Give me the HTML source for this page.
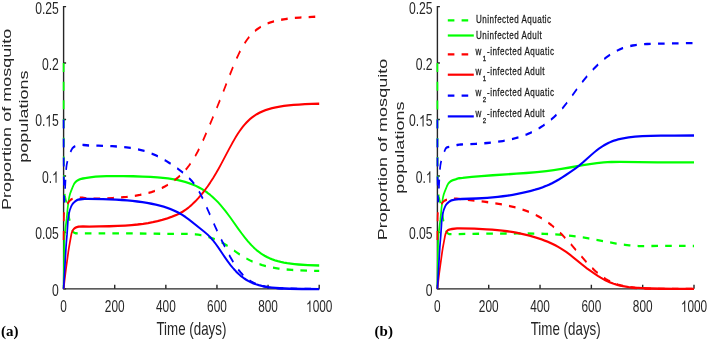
<!DOCTYPE html>
<html><head><meta charset="utf-8"><style>
html,body{margin:0;padding:0;background:#fff;width:708px;height:341px;overflow:hidden;}
svg{display:block;will-change:transform;}
</style></head><body>
<svg width="708" height="341" viewBox="0 0 708 341">
<style>
text{font-family:"Liberation Sans",sans-serif;}
.tk{font-size:16px;fill:#262626;}
.lb{font-size:18.3px;fill:#262626;}
.yl{font-size:18.05px;fill:#262626;}
.lg{font-size:10.6px;fill:#1a1a1a;stroke:#1a1a1a;stroke-width:0.25px;letter-spacing:0.62px;}
.lgs{font-size:7.6px;fill:#1a1a1a;stroke:#1a1a1a;stroke-width:0.3px;}
.pl{font-family:"Liberation Serif",serif;font-weight:bold;font-size:15px;fill:#000;}
</style>
<rect width="708" height="341" fill="#fff"/>
<path d="M63.6,6.0 L63.6,288.85 L319.2,288.85" fill="none" stroke="#262626" stroke-width="1.4"/>
<path d="M63.6,288.85 h2.5 M63.6,232.40 h2.5 M63.6,175.95 h2.5 M63.6,119.50 h2.5 M63.6,63.05 h2.5 M63.6,6.60 h2.5 M63.60,288.85 v-4.1 M114.72,288.85 v-4.1 M165.84,288.85 v-4.1 M216.96,288.85 v-4.1 M268.08,288.85 v-4.1 M319.20,288.85 v-4.1" stroke="#262626" stroke-width="1.4" fill="none"/>
<g transform="translate(63.6,0) scale(0.734,1)" fill="none" stroke-width="2.3" stroke-linejoin="round">
<path d="M0.00,62.90 L0.07,121.42 L0.23,165.69 L0.48,180.96 L0.64,185.30 L0.91,189.47 L1.29,193.01 L1.86,196.02 L2.92,199.65 L4.26,203.33 L4.85,205.27 L5.54,208.16 L8.04,219.38 L9.46,224.63 L10.28,227.23 L10.99,228.91 L11.72,230.22 L12.32,231.15 L12.87,231.82 L13.38,232.24 L14.96,232.92 L16.40,233.26 L23.22,233.46 L26.94,233.48 L35.42,233.39 L95.21,233.47 L116.46,233.60 L148.63,233.94 L168.25,233.80 L172.20,233.88 L175.91,234.04 L179.63,234.31 L183.35,234.69 L186.95,235.15 L190.66,235.73 L194.38,236.41 L197.98,237.16 L201.58,238.02 L205.06,238.95 L208.43,239.96 L211.68,241.04 L217.02,243.06 L222.24,245.36 L227.00,247.71 L235.95,252.43 L239.78,254.38 L244.07,256.42 L248.25,258.21 L253.60,260.25 L259.05,262.05 L264.74,263.66 L270.66,265.09 L277.63,266.47 L284.95,267.61 L292.84,268.56 L301.43,269.33 L310.84,269.92 L321.41,270.36 L333.60,270.69 L348.23,270.91" stroke="#00ff00" stroke-dasharray="9 9.730"/>
<path d="M0.00,288.85 L0.89,243.92 L1.00,240.35 L1.26,236.96 L1.72,233.15 L4.15,218.88 L5.54,208.44 L6.06,204.99 L6.79,201.08 L7.39,198.26 L7.91,196.29 L8.53,194.55 L9.19,192.99 L9.98,191.42 L12.79,186.27 L14.05,184.26 L14.83,183.28 L15.74,182.47 L17.00,181.54 L18.31,180.78 L19.80,180.13 L21.83,179.46 L23.92,178.93 L26.24,178.50 L29.38,178.06 L36.00,177.32 L43.54,176.67 L50.51,176.31 L58.52,176.10 L68.62,176.03 L81.05,176.08 L94.87,176.26 L107.29,176.54 L118.21,176.91 L127.84,177.38 L135.27,177.88 L142.12,178.46 L148.51,179.15 L154.55,179.95 L160.12,180.85 L165.46,181.89 L170.57,183.07 L175.33,184.35 L179.86,185.77 L184.16,187.32 L188.34,189.02 L192.29,190.85 L196.23,192.89 L200.07,195.10 L203.78,197.47 L207.50,200.07 L210.63,202.46 L213.88,205.11 L217.25,208.04 L220.62,211.14 L226.89,217.30 L238.04,228.83 L242.45,233.29 L246.98,237.64 L251.16,241.37 L253.71,243.49 L256.15,245.40 L258.59,247.19 L261.03,248.86 L263.46,250.41 L265.90,251.84 L268.46,253.21 L271.01,254.47 L274.15,255.85 L277.40,257.13 L280.77,258.28 L284.37,259.36 L287.97,260.29 L291.80,261.13 L295.86,261.89 L300.16,262.56 L304.69,263.15 L309.45,263.65 L314.56,264.10 L320.13,264.48 L332.79,265.08 L348.23,265.49" stroke="#00ff00"/>
<path d="M0.00,240.00 L0.12,225.79 L0.36,217.13 L0.49,214.64 L0.68,212.69 L0.97,210.61 L1.30,209.03 L1.63,208.02 L2.11,207.01 L2.61,206.26 L3.35,205.41 L5.09,203.95 L6.87,201.97 L7.69,201.22 L9.23,200.06 L10.59,199.38 L12.27,198.77 L13.90,198.35 L17.21,197.80 L19.57,197.61 L22.41,197.63 L25.43,197.74 L32.16,198.66 L33.79,198.81 L35.18,198.85 L46.91,198.64 L57.48,198.37 L66.88,198.03 L75.47,197.60 L85.93,196.90 L95.33,196.02 L103.92,194.95 L111.82,193.67 L115.88,192.88 L119.71,192.04 L123.43,191.13 L127.15,190.11 L130.75,189.01 L134.23,187.84 L137.60,186.59 L140.85,185.26 L144.10,183.82 L147.23,182.30 L150.25,180.71 L153.27,178.99 L156.17,177.21 L159.08,175.28 L161.75,173.36 L164.42,171.30 L167.67,168.56 L170.69,165.77 L173.59,162.83 L176.38,159.73 L179.17,156.34 L181.84,152.81 L184.51,148.99 L187.41,144.54 L190.78,139.08 L194.84,132.19 L203.32,117.48 L209.24,107.03 L215.16,96.24 L226.89,74.10 L231.77,65.22 L235.95,58.14 L237.92,55.02 L239.78,52.23 L242.22,48.80 L244.65,45.64 L247.09,42.74 L249.65,39.99 L252.20,37.51 L254.87,35.19 L257.54,33.13 L260.33,31.23 L263.46,29.36 L266.72,27.68 L270.20,26.14 L273.92,24.74 L277.75,23.52 L281.93,22.40 L286.46,21.39 L291.22,20.52 L296.33,19.75 L301.90,19.07 L307.94,18.48 L314.56,17.97 L321.75,17.54 L329.65,17.18 L338.48,16.88 L348.23,16.64" stroke="#ff0000" stroke-dasharray="9 9.800"/>
<path d="M0.00,288.85 L1.65,278.21 L3.18,269.36 L6.38,252.11 L7.29,247.81 L8.38,243.13 L10.54,234.40 L11.06,232.73 L11.91,231.23 L12.84,229.95 L13.78,228.99 L14.74,228.32 L16.35,227.63 L17.95,227.10 L19.45,226.76 L20.90,226.60 L26.36,226.44 L34.83,226.59 L48.54,226.45 L62.24,226.23 L73.97,225.92 L83.84,225.55 L92.66,225.08 L100.79,224.52 L108.34,223.83 L115.07,223.06 L121.57,222.15 L127.96,221.09 L134.35,219.86 L141.43,218.30 L147.81,216.70 L152.92,215.23 L157.45,213.68 L161.86,211.87 L166.16,209.79 L170.46,207.39 L174.75,204.67 L179.17,201.54 L183.58,198.09 L187.99,194.31 L192.29,190.31 L196.12,186.47 L199.95,182.35 L203.78,177.96 L207.61,173.29 L210.98,168.98 L214.58,164.17 L225.73,148.67 L229.68,143.31 L233.74,138.09 L237.57,133.55 L239.89,131.00 L242.22,128.62 L244.54,126.41 L246.86,124.37 L249.18,122.50 L251.62,120.70 L254.06,119.06 L256.61,117.51 L259.98,115.70 L263.46,114.08 L267.18,112.60 L271.01,111.29 L275.08,110.11 L279.49,109.04 L284.13,108.11 L289.13,107.27 L294.47,106.55 L300.27,105.92 L306.54,105.37 L313.28,104.92 L320.71,104.53 L328.84,104.21 L338.01,103.95 L348.23,103.75" stroke="#ff0000"/>
<path d="M0.00,119.50 L0.08,153.20 L0.26,178.83 L0.55,191.87 L0.89,199.45 L1.08,201.50 L1.17,201.31 L1.27,200.58 L1.58,196.89 L2.17,186.20 L2.94,174.58 L3.70,167.69 L4.01,165.79 L4.41,164.04 L5.07,161.74 L5.90,159.54 L7.93,154.85 L8.72,153.26 L9.50,151.87 L10.89,149.65 L11.86,148.44 L12.47,147.93 L13.26,147.38 L14.92,146.51 L17.75,145.41 L19.35,144.98 L20.22,144.90 L24.62,144.90 L27.40,145.00 L34.49,145.52 L47.49,145.71 L57.24,145.92 L66.19,146.22 L74.08,146.59 L80.12,146.97 L85.81,147.43 L91.15,147.96 L96.14,148.57 L100.90,149.28 L105.55,150.09 L109.96,150.99 L114.26,152.00 L118.44,153.12 L122.50,154.34 L126.57,155.70 L130.75,157.23 L134.93,158.89 L139.34,160.79 L143.87,162.86 L148.63,165.16 L153.62,167.70 L158.26,170.19 L162.33,172.49 L165.93,174.68 L169.06,176.75 L171.97,178.84 L174.64,180.98 L177.08,183.15 L179.86,185.92 L182.65,189.07 L185.44,192.62 L188.22,196.55 L190.20,199.55 L192.40,203.07 L203.67,221.92 L207.15,227.57 L210.86,233.43 L215.39,240.36 L219.69,246.73 L223.41,252.02 L226.89,256.73 L229.91,260.57 L232.81,264.01 L235.60,267.06 L238.38,269.85 L241.17,272.38 L243.96,274.64 L246.86,276.72 L249.76,278.55 L252.78,280.19 L256.03,281.70 L259.40,283.01 L263.00,284.17 L266.72,285.13 L270.78,285.98 L275.19,286.69 L279.95,287.27 L284.83,287.71 L290.29,288.07 L296.44,288.35 L303.41,288.57 L320.83,288.82 L348.23,288.93" stroke="#0000ff" stroke-dasharray="9 9.970"/>
<path d="M0.00,288.85 L3.20,248.27 L3.64,243.70 L4.69,234.40 L5.80,221.88 L6.10,219.46 L6.78,216.01 L7.46,213.23 L8.21,210.88 L8.90,209.19 L9.92,207.21 L10.89,205.63 L11.86,204.35 L12.74,203.47 L13.90,202.60 L15.54,201.53 L17.06,200.69 L18.97,199.92 L19.89,199.67 L20.78,199.52 L28.56,198.89 L32.86,198.78 L53.65,199.11 L71.41,199.65 L79.31,200.01 L86.74,200.43 L93.82,200.92 L100.56,201.49 L107.29,202.16 L113.68,202.91 L119.83,203.75 L125.64,204.66 L131.09,205.65 L136.32,206.73 L141.20,207.88 L145.84,209.13 L151.30,210.82 L156.41,212.67 L161.40,214.76 L166.39,217.15 L170.69,219.42 L175.45,222.14 L191.47,231.62 L196.23,234.64 L198.67,236.37 L201.11,238.28 L203.43,240.27 L205.87,242.54 L210.40,247.15 L219.34,256.86 L223.41,261.12 L227.70,265.32 L231.88,269.01 L234.32,270.97 L236.64,272.71 L239.08,274.38 L241.52,275.92 L243.96,277.33 L246.51,278.66 L249.07,279.86 L251.74,280.98 L254.99,282.18 L258.47,283.28 L262.07,284.25 L265.90,285.12 L269.97,285.87 L274.26,286.53 L278.79,287.08 L283.79,287.56 L288.89,287.94 L294.58,288.26 L307.82,288.73 L324.66,289.00 L348.23,289.14" stroke="#0000ff"/>
</g>
<g transform="translate(58.80,295.75) scale(0.76,1)"><text x="-8.898" y="0" class="tk">0</text></g>
<g transform="translate(58.80,239.30) scale(0.76,1)"><text x="-31.141" y="0" class="tk">0.05</text></g>
<g transform="translate(58.80,182.85) scale(0.76,1)"><text x="-22.242" y="0" class="tk">0.</text><path d="M763,0 H583 V-1147 Q518,-1085 412,-1023 Q306,-961 222,-930 V-1104 Q373,-1175 486,-1276 Q599,-1377 646,-1472 H763 Z" transform="translate(-8.898,0) scale(0.007812)" fill="#262626"/></g>
<g transform="translate(58.80,126.40) scale(0.76,1)"><text x="-31.141" y="0" class="tk">0.</text><path d="M763,0 H583 V-1147 Q518,-1085 412,-1023 Q306,-961 222,-930 V-1104 Q373,-1175 486,-1276 Q599,-1377 646,-1472 H763 Z" transform="translate(-17.797,0) scale(0.007812)" fill="#262626"/><text x="-8.898" y="0" class="tk">5</text></g>
<g transform="translate(58.80,69.95) scale(0.76,1)"><text x="-22.242" y="0" class="tk">0.2</text></g>
<g transform="translate(58.80,13.50) scale(0.76,1)"><text x="-31.141" y="0" class="tk">0.25</text></g>
<g transform="translate(63.60,312.10) scale(0.74,1)"><text x="-4.449" y="0" class="tk">0</text></g>
<g transform="translate(114.72,312.10) scale(0.74,1)"><text x="-13.348" y="0" class="tk">200</text></g>
<g transform="translate(165.84,312.10) scale(0.74,1)"><text x="-13.348" y="0" class="tk">400</text></g>
<g transform="translate(216.96,312.10) scale(0.74,1)"><text x="-13.348" y="0" class="tk">600</text></g>
<g transform="translate(268.08,312.10) scale(0.74,1)"><text x="-13.348" y="0" class="tk">800</text></g>
<g transform="translate(319.20,312.10) scale(0.74,1)"><path d="M763,0 H583 V-1147 Q518,-1085 412,-1023 Q306,-961 222,-930 V-1104 Q373,-1175 486,-1276 Q599,-1377 646,-1472 H763 Z" transform="translate(-17.797,0) scale(0.007812)" fill="#262626"/><text x="-8.898" y="0" class="tk">000</text></g>
<text transform="translate(191.40,335.1) scale(0.73,1)" text-anchor="middle" class="lb">Time (days)</text>
<path d="M437.4,6.0 L437.4,288.85 L694.0,288.85" fill="none" stroke="#262626" stroke-width="1.4"/>
<path d="M437.4,288.85 h2.5 M437.4,232.40 h2.5 M437.4,175.95 h2.5 M437.4,119.50 h2.5 M437.4,63.05 h2.5 M437.4,6.60 h2.5 M437.40,288.85 v-4.1 M488.72,288.85 v-4.1 M540.04,288.85 v-4.1 M591.36,288.85 v-4.1 M642.68,288.85 v-4.1 M694.00,288.85 v-4.1" stroke="#262626" stroke-width="1.4" fill="none"/>
<g transform="translate(437.4,0) scale(0.734,1)" fill="none" stroke-width="2.3" stroke-linejoin="round">
<path d="M0.00,62.90 L0.07,121.43 L0.24,166.12 L0.49,181.36 L0.65,185.56 L0.93,189.80 L1.30,193.19 L1.87,196.20 L2.93,199.85 L4.25,203.52 L4.84,205.48 L5.53,208.39 L8.07,219.91 L9.67,225.82 L10.65,228.70 L11.72,230.79 L12.31,231.74 L12.85,232.43 L13.31,232.85 L13.92,233.20 L15.51,233.87 L16.20,234.04 L16.87,234.10 L27.86,234.09 L49.19,233.82 L76.70,233.58 L108.41,233.46 L122.63,233.51 L135.10,233.64 L146.18,233.86 L156.32,234.18 L165.53,234.60 L174.27,235.13 L182.66,235.78 L190.94,236.57 L198.28,237.39 L205.98,238.35 L232.67,242.11 L243.63,243.53 L249.81,244.23 L255.64,244.82 L261.35,245.31 L266.71,245.68 L274.05,246.03 L280.93,246.16 L286.76,246.12 L300.17,245.84 L307.04,245.79 L349.59,246.00" stroke="#00ff00" stroke-dasharray="9 9.800"/>
<path d="M0.00,288.85 L0.86,245.28 L0.97,241.09 L1.09,238.99 L1.35,236.04 L1.64,233.71 L4.08,219.43 L5.61,208.04 L6.21,204.31 L7.36,198.55 L7.83,196.74 L8.32,195.28 L8.91,193.80 L9.58,192.40 L12.69,186.73 L14.01,184.61 L14.58,183.88 L15.12,183.32 L16.19,182.46 L17.31,181.71 L18.46,181.09 L19.67,180.59 L21.22,180.11 L24.71,179.29 L27.39,178.52 L28.33,178.35 L29.49,178.24 L34.39,177.96 L46.86,176.96 L59.80,176.10 L75.30,175.25 L107.71,173.69 L121.23,172.98 L135.57,172.07 L148.39,171.06 L158.65,170.08 L169.03,168.92 L178.47,167.75 L198.40,165.12 L207.61,164.02 L217.29,163.07 L226.61,162.42 L231.74,162.18 L237.10,162.01 L248.88,161.88 L299.93,162.37 L319.87,162.42 L349.59,162.39" stroke="#00ff00"/>
<path d="M0.00,240.00 L0.12,225.80 L0.36,217.18 L0.49,214.71 L0.66,212.95 L0.95,210.85 L1.26,209.33 L1.56,208.34 L1.99,207.42 L2.47,206.67 L3.08,205.99 L3.68,205.44 L5.14,204.37 L7.30,202.21 L8.77,201.17 L9.94,200.56 L12.10,199.87 L14.06,199.50 L20.05,199.10 L22.85,198.61 L26.11,198.66 L33.92,199.33 L51.06,200.58 L63.41,201.65 L76.82,203.04 L88.83,204.56 L98.50,206.04 L107.24,207.64 L115.40,209.44 L119.25,210.40 L122.98,211.42 L126.59,212.50 L130.09,213.63 L133.47,214.82 L136.85,216.09 L140.12,217.43 L143.38,218.86 L146.53,220.34 L149.67,221.93 L155.04,224.88 L160.28,228.08 L165.53,231.58 L171.01,235.55 L175.67,239.15 L180.80,243.31 L196.89,256.96 L202.71,261.78 L208.66,266.41 L214.02,270.26 L217.17,272.34 L220.20,274.21 L223.23,275.94 L226.26,277.53 L229.29,278.98 L232.32,280.29 L235.47,281.52 L238.62,282.60 L242.23,283.69 L245.84,284.62 L249.69,285.46 L253.65,286.17 L257.85,286.79 L262.28,287.30 L267.06,287.73 L272.31,288.08 L283.03,288.52 L296.55,288.76 L314.04,288.85 L349.59,288.87" stroke="#ff0000" stroke-dasharray="9 9.800"/>
<path d="M0.00,288.85 L1.24,280.77 L2.42,273.64 L6.34,252.69 L7.34,248.06 L8.52,243.16 L10.51,235.52 L11.09,233.82 L12.10,232.27 L13.14,231.07 L14.16,230.26 L14.66,230.01 L15.18,229.83 L17.34,229.34 L19.95,229.00 L26.81,228.43 L30.31,228.31 L50.36,228.72 L67.03,229.31 L74.60,229.70 L81.72,230.15 L88.48,230.67 L94.89,231.26 L101.30,231.95 L107.48,232.72 L113.54,233.59 L119.48,234.57 L125.31,235.64 L131.02,236.81 L136.62,238.08 L141.98,239.42 L146.06,240.53 L150.02,241.70 L153.75,242.88 L157.37,244.12 L160.87,245.40 L164.25,246.75 L167.63,248.19 L170.89,249.69 L175.67,252.07 L180.68,254.81 L185.23,257.46 L196.65,264.32 L203.88,268.40 L208.89,271.05 L214.25,273.77 L218.80,275.98 L222.76,277.78 L225.68,279.01 L228.59,280.16 L231.51,281.21 L234.30,282.12 L237.22,282.98 L240.13,283.75 L243.16,284.45 L246.19,285.07 L249.57,285.66 L253.07,286.19 L256.80,286.66 L260.65,287.06 L269.16,287.72 L279.07,288.20 L290.49,288.52 L304.71,288.74 L323.13,288.86 L349.59,288.93" stroke="#ff0000"/>
<path d="M0.00,119.50 L0.08,153.20 L0.26,178.82 L0.56,192.12 L0.90,199.59 L1.00,201.00 L1.09,201.44 L1.28,200.42 L1.59,196.65 L2.16,186.25 L2.89,175.01 L3.51,169.00 L4.05,165.36 L4.63,162.94 L5.30,160.83 L5.93,159.20 L7.81,154.80 L8.97,152.46 L10.76,149.30 L11.48,148.28 L12.08,147.79 L13.06,147.46 L14.23,147.20 L27.04,145.00 L29.73,144.65 L32.17,144.50 L42.78,144.21 L52.46,143.84 L60.50,143.45 L67.96,142.99 L75.42,142.42 L82.30,141.78 L88.94,141.02 L95.12,140.18 L100.95,139.24 L106.43,138.21 L111.67,137.08 L116.80,135.81 L121.81,134.40 L126.59,132.88 L131.26,131.22 L135.80,129.43 L139.88,127.65 L143.85,125.77 L147.81,123.72 L151.66,121.57 L155.39,119.31 L159.00,116.96 L162.50,114.50 L165.99,111.86 L170.89,107.82 L175.90,103.26 L180.33,98.93 L192.22,86.90 L196.19,83.09 L200.03,79.55 L204.46,75.67 L209.01,71.91 L213.44,68.45 L217.87,65.20 L221.95,62.41 L225.91,59.88 L229.87,57.56 L233.72,55.49 L237.57,53.62 L241.41,51.95 L245.26,50.47 L249.23,49.14 L252.49,48.20 L255.75,47.37 L259.13,46.64 L262.51,46.03 L266.13,45.49 L269.86,45.04 L273.82,44.66 L278.13,44.35 L285.83,43.99 L295.50,43.74 L349.59,43.00" stroke="#0000ff" stroke-dasharray="9 9.980"/>
<path d="M0.00,288.85 L3.30,247.15 L4.69,234.50 L5.81,221.93 L6.06,219.88 L6.45,217.76 L7.28,214.11 L8.18,211.19 L8.66,209.98 L9.20,208.83 L10.61,206.35 L11.76,204.81 L12.89,203.71 L15.17,202.19 L17.36,201.06 L19.08,200.42 L20.75,200.03 L23.55,199.71 L29.49,199.21 L33.22,199.02 L53.51,198.48 L67.73,197.84 L75.19,197.39 L82.30,196.87 L89.18,196.27 L95.94,195.58 L102.58,194.80 L109.11,193.94 L115.52,192.98 L121.70,191.95 L127.53,190.88 L133.12,189.73 L138.25,188.55 L143.15,187.31 L147.81,185.98 L152.24,184.58 L156.55,183.07 L160.87,181.41 L165.18,179.60 L169.84,177.50 L175.32,174.90 L181.61,171.80 L188.03,168.47 L193.27,165.52 L198.87,162.06 L209.71,154.90 L214.49,151.88 L217.17,150.29 L219.85,148.79 L222.41,147.46 L224.98,146.22 L227.43,145.13 L229.99,144.08 L232.56,143.13 L235.12,142.26 L237.80,141.45 L240.48,140.73 L243.28,140.06 L246.19,139.45 L249.57,138.83 L253.07,138.29 L256.80,137.80 L260.65,137.39 L269.28,136.70 L279.18,136.20 L290.49,135.88 L304.60,135.66 L322.90,135.54 L349.59,135.49" stroke="#0000ff"/>
</g>
<g transform="translate(432.60,295.75) scale(0.76,1)"><text x="-8.898" y="0" class="tk">0</text></g>
<g transform="translate(432.60,239.30) scale(0.76,1)"><text x="-31.141" y="0" class="tk">0.05</text></g>
<g transform="translate(432.60,182.85) scale(0.76,1)"><text x="-22.242" y="0" class="tk">0.</text><path d="M763,0 H583 V-1147 Q518,-1085 412,-1023 Q306,-961 222,-930 V-1104 Q373,-1175 486,-1276 Q599,-1377 646,-1472 H763 Z" transform="translate(-8.898,0) scale(0.007812)" fill="#262626"/></g>
<g transform="translate(432.60,126.40) scale(0.76,1)"><text x="-31.141" y="0" class="tk">0.</text><path d="M763,0 H583 V-1147 Q518,-1085 412,-1023 Q306,-961 222,-930 V-1104 Q373,-1175 486,-1276 Q599,-1377 646,-1472 H763 Z" transform="translate(-17.797,0) scale(0.007812)" fill="#262626"/><text x="-8.898" y="0" class="tk">5</text></g>
<g transform="translate(432.60,69.95) scale(0.76,1)"><text x="-22.242" y="0" class="tk">0.2</text></g>
<g transform="translate(432.60,13.50) scale(0.76,1)"><text x="-31.141" y="0" class="tk">0.25</text></g>
<g transform="translate(437.40,312.10) scale(0.74,1)"><text x="-4.449" y="0" class="tk">0</text></g>
<g transform="translate(488.72,312.10) scale(0.74,1)"><text x="-13.348" y="0" class="tk">200</text></g>
<g transform="translate(540.04,312.10) scale(0.74,1)"><text x="-13.348" y="0" class="tk">400</text></g>
<g transform="translate(591.36,312.10) scale(0.74,1)"><text x="-13.348" y="0" class="tk">600</text></g>
<g transform="translate(642.68,312.10) scale(0.74,1)"><text x="-13.348" y="0" class="tk">800</text></g>
<g transform="translate(694.00,312.10) scale(0.74,1)"><path d="M763,0 H583 V-1147 Q518,-1085 412,-1023 Q306,-961 222,-930 V-1104 Q373,-1175 486,-1276 Q599,-1377 646,-1472 H763 Z" transform="translate(-17.797,0) scale(0.007812)" fill="#262626"/><text x="-8.898" y="0" class="tk">000</text></g>
<text transform="translate(565.70,335.1) scale(0.73,1)" text-anchor="middle" class="lb">Time (days)</text>
<text transform="translate(11.2,119.35) scale(0.72,1) rotate(-90)" text-anchor="middle" class="yl">Proportion of mosquito</text>
<text transform="translate(27.6,116.6) scale(0.72,1) rotate(-90)" text-anchor="middle" class="yl">populations</text>
<text transform="translate(387.4,149.5) scale(0.72,1) rotate(-90)" text-anchor="middle" class="yl">Proportion of mosquito</text>
<text transform="translate(404.2,147.65) scale(0.72,1) rotate(-90)" text-anchor="middle" class="yl">populations</text>
<path d="M447.8,20.4 h6.6 M461.6,20.4 h6.6" stroke="#00ff00" stroke-width="2.2" fill="none"/>
<text transform="translate(476.0,23.20) scale(0.76,1)" class="lg">Uninfected Aquatic</text>
<path d="M447.8,35.5 H473.8" stroke="#00ff00" stroke-width="2.2" fill="none"/>
<text transform="translate(476.0,38.60) scale(0.76,1)" class="lg">Uninfected Adult</text>
<path d="M447.8,54.3 h6.6 M461.6,54.3 h6.6" stroke="#ff0000" stroke-width="2.2" fill="none"/>
<text transform="translate(475.6,54.90) scale(0.76,1)" class="lg">w</text>
<text transform="translate(482.7,60.90) scale(0.8,1)" class="lgs">1</text>
<text transform="translate(487.0,54.90) scale(0.76,1)" class="lg">-infected Aquatic</text>
<path d="M447.8,74.7 H473.8" stroke="#ff0000" stroke-width="2.2" fill="none"/>
<text transform="translate(475.6,75.40) scale(0.76,1)" class="lg">w</text>
<text transform="translate(482.7,81.40) scale(0.8,1)" class="lgs">1</text>
<text transform="translate(487.0,75.40) scale(0.76,1)" class="lg">-infected Adult</text>
<path d="M447.8,95.6 h6.6 M461.6,95.6 h6.6" stroke="#0000ff" stroke-width="2.2" fill="none"/>
<text transform="translate(475.6,96.30) scale(0.76,1)" class="lg">w</text>
<text transform="translate(482.7,102.30) scale(0.8,1)" class="lgs">2</text>
<text transform="translate(487.0,96.30) scale(0.76,1)" class="lg">-infected Aquatic</text>
<path d="M447.8,116.4 H473.8" stroke="#0000ff" stroke-width="2.2" fill="none"/>
<text transform="translate(475.6,116.90) scale(0.76,1)" class="lg">w</text>
<text transform="translate(482.7,122.90) scale(0.8,1)" class="lgs">2</text>
<text transform="translate(487.0,116.90) scale(0.76,1)" class="lg">-infected Adult</text>
<text x="1.0" y="336.2" class="pl">(a)</text>
<text x="374.6" y="336.2" class="pl">(b)</text>
</svg>
</body></html>
